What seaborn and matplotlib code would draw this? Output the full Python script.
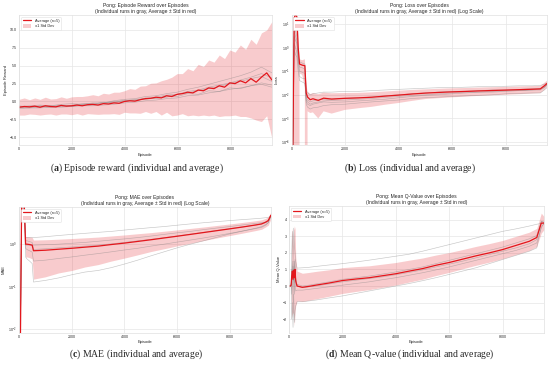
import numpy as np
import pandas as pd
import matplotlib
matplotlib.use("Agg")
import matplotlib.pyplot as plt
from matplotlib.lines import Line2D
from matplotlib.patches import Patch
import seaborn as sns

# ---------------- data ----------------
# (a) episode reward
ep_a = np.linspace(0, 9550, 49)
mean_a = [-0.8, -0.7, -0.75, -0.65, -0.8, -0.6, -0.7, -0.75, -0.55, -0.65, -0.6,
          -0.5, -0.6, -0.45, -0.4, -0.5, -0.3, -0.35, -0.2, -0.25, 0.0,
          0.1, 0.05, 0.25, 0.4, 0.45, 0.6, 0.5, 0.8, 0.7, 1.0,
          1.1, 1.3, 1.2, 1.6, 1.5, 1.9, 1.8, 2.2, 2.0, 2.6,
          2.5, 2.9, 2.6, 3.2, 2.7, 3.4, 4.0, 3.0]
std_a = [1.1, 1.2, 1.0, 1.15, 1.1, 1.2, 1.05, 1.15, 1.2, 1.1, 1.25,
         1.2, 1.3, 1.25, 1.35, 1.3, 1.45, 1.4, 1.5, 1.55, 1.5,
         1.7, 1.65, 1.9, 1.8, 2.1, 2.0, 2.4, 2.3, 2.7, 2.9,
         2.8, 3.3, 3.1, 3.6, 3.4, 3.9, 3.7, 4.3, 4.0, 4.6,
         4.4, 5.0, 4.7, 5.5, 5.3, 6.2, 6.0, 8.2]
ep_a_runs = np.linspace(0, 9550, 25)
runs_a = [
    [-0.9, -0.7, -0.8, -0.6, -0.7, -0.5, -0.4, -0.3, -0.2, 0.0, 0.1, 0.3, 0.4, 0.6, 0.9, 1.0, 1.4, 1.6, 2.0, 2.3, 2.6, 3.0, 3.4, 3.9, 3.3],
    [-0.6, -0.8, -0.6, -0.7, -0.5, -0.6, -0.3, -0.4, -0.1, -0.2, 0.2, 0.1, 0.5, 0.4, 0.8, 0.7, 1.1, 1.0, 1.5, 1.4, 1.9, 1.8, 2.2, 2.4, 2.0],
    [-0.8, -0.9, -0.7, -0.8, -0.6, -0.7, -0.5, -0.5, -0.3, -0.1, 0.0, 0.2, 0.3, 0.5, 0.6, 1.0, 1.2, 1.5, 1.8, 2.1, 2.5, 2.8, 3.2, 3.5, 2.8],
    [-0.7, -0.6, -0.5, -0.6, -0.4, -0.3, -0.4, -0.2, -0.2, 0.1, 0.3, 0.4, 0.7, 0.8, 1.1, 1.3, 1.7, 2.0, 2.4, 2.8, 3.2, 3.6, 4.1, 4.8, 4.0],
    [-1.0, -0.9, -0.9, -0.8, -0.8, -0.7, -0.6, -0.6, -0.5, -0.4, -0.2, -0.1, 0.1, 0.2, 0.4, 0.5, 0.8, 0.9, 1.2, 1.4, 1.7, 1.9, 2.2, 2.6, 2.3],
]

# (b) loss
ep_b = [0, 50, 100, 150, 200, 250, 300, 400, 500, 550, 600, 700, 800, 1000, 1200, 1500,
        2000, 2500, 3000, 3500, 4000, 4500, 5000, 5500, 6000, 6500, 7000, 7500, 8000,
        8500, 9000, 9300, 9450, 9550]
mean_b = [5e-5, 5e-5, 18, 25, 20, 1.0, 0.2, 0.18, 0.17, 0.012, 0.008, 0.0062, 0.0068,
          0.0058, 0.0072, 0.0066, 0.0071, 0.0074, 0.0079, 0.0088, 0.0097, 0.0108, 0.0118,
          0.0126, 0.0133, 0.0139, 0.0146, 0.0152, 0.0158, 0.0165, 0.0172, 0.0178, 0.024, 0.030]
std_b = [1e-5, 1e-5, 30, 35, 28, 3.0, 0.12, 0.11, 0.15, 0.02, 0.006, 0.0045, 0.005,
         0.0048, 0.0052, 0.005, 0.0048, 0.0047, 0.0048, 0.005, 0.0052, 0.0053, 0.0052,
         0.0054, 0.0055, 0.0055, 0.0056, 0.0057, 0.0058, 0.0059, 0.006, 0.006, 0.008, 0.009]
runs_b = [
    [5e-5, 5e-5, 8, 5, 3, 0.5, 0.25, 0.22, 0.2, 0.015, 0.012, 0.010, 0.011, 0.012, 0.013, 0.013, 0.014, 0.014, 0.015, 0.016, 0.017, 0.018, 0.019, 0.020, 0.020, 0.021, 0.022, 0.022, 0.023, 0.024, 0.024, 0.025, 0.028, 0.032],
    [5e-5, 5e-5, 3, 2, 1.5, 0.3, 0.15, 0.14, 0.12, 0.008, 0.006, 0.005, 0.0055, 0.006, 0.0065, 0.0065, 0.007, 0.0075, 0.008, 0.009, 0.010, 0.011, 0.012, 0.013, 0.014, 0.014, 0.015, 0.016, 0.016, 0.017, 0.018, 0.018, 0.022, 0.028],
    [5e-5, 5e-5, 1.5, 1.0, 0.6, 0.2, 0.06, 0.05, 0.05, 0.004, 0.003, 0.0025, 0.0028, 0.003, 0.0035, 0.0038, 0.004, 0.0045, 0.005, 0.0055, 0.006, 0.007, 0.0075, 0.008, 0.0085, 0.009, 0.0095, 0.010, 0.011, 0.0115, 0.012, 0.012, 0.016, 0.020],
    [5e-5, 5e-5, 0.8, 0.5, 0.4, 0.1, 0.04, 0.035, 0.03, 0.005, 0.004, 0.0035, 0.004, 0.0045, 0.005, 0.0048, 0.005, 0.0055, 0.006, 0.0065, 0.0075, 0.0085, 0.0095, 0.010, 0.011, 0.012, 0.013, 0.013, 0.014, 0.015, 0.016, 0.016, 0.020, 0.026],
    [5e-5, 5e-5, 5, 3, 2, 0.4, 0.1, 0.09, 0.08, 0.006, 0.005, 0.004, 0.0045, 0.005, 0.0055, 0.0058, 0.006, 0.0065, 0.007, 0.0078, 0.0085, 0.0095, 0.010, 0.011, 0.012, 0.013, 0.013, 0.014, 0.015, 0.015, 0.016, 0.017, 0.021, 0.027],
]

# (c) MAE
ep_c = [0, 50, 100, 200, 250, 300, 400, 500, 550, 1000, 1500, 2000, 2500, 3000, 3500,
        4000, 4500, 5000, 5500, 6000, 6500, 7000, 7500, 8000, 8500, 9000, 9200, 9350,
        9450, 9550]
mean_c = [0.003, 0.003, 8.5, 8.5, 1.0, 1.0, 0.98, 0.95, 0.70, 0.72, 0.76, 0.80, 0.85,
          0.90, 0.98, 1.06, 1.16, 1.27, 1.40, 1.54, 1.70, 1.88, 2.08, 2.30, 2.55, 2.85,
          3.0, 3.3, 3.6, 4.8]
std_c = [0.001, 0.001, 5, 5, 0.5, 0.5, 0.5, 0.5, 0.55, 0.55, 0.55, 0.56, 0.56, 0.57,
         0.58, 0.59, 0.6, 0.6, 0.62, 0.63, 0.65, 0.66, 0.68, 0.7, 0.72, 0.74, 0.75, 0.75,
         0.8, 0.9]
runs_c = [
    [0.003, 0.003, 6, 6, 1.4, 1.45, 1.45, 1.42, 1.43, 1.5, 1.6, 1.7, 1.8, 1.9, 2.0, 2.15, 2.3, 2.45, 2.6, 2.8, 3.0, 3.2, 3.4, 3.6, 3.8, 4.0, 4.1, 4.2, 4.3, 4.5],
    [0.003, 0.003, 9, 9, 0.95, 0.95, 0.95, 0.93, 0.95, 0.97, 1.0, 1.05, 1.1, 1.17, 1.25, 1.33, 1.43, 1.55, 1.7, 1.85, 2.0, 2.2, 2.4, 2.6, 2.85, 3.1, 3.2, 3.3, 3.5, 4.6],
    [0.003, 0.003, 10, 10, 0.8, 0.75, 0.7, 0.65, 0.4, 0.42, 0.46, 0.5, 0.55, 0.6, 0.66, 0.73, 0.8, 0.9, 1.0, 1.12, 1.25, 1.4, 1.58, 1.8, 2.05, 2.35, 2.5, 2.8, 3.2, 4.6],
    [0.003, 0.003, 7, 7, 0.5, 0.45, 0.4, 0.35, 0.128, 0.14, 0.16, 0.19, 0.22, 0.24, 0.28, 0.34, 0.42, 0.53, 0.66, 0.82, 1.0, 1.2, 1.45, 1.75, 2.05, 2.4, 2.6, 2.9, 3.2, 4.5],
    [0.003, 0.003, 8, 8, 1.2, 1.2, 1.15, 1.1, 0.75, 0.78, 0.82, 0.86, 0.9, 0.95, 1.02, 1.1, 1.2, 1.3, 1.42, 1.56, 1.72, 1.9, 2.1, 2.32, 2.56, 2.85, 3.0, 3.2, 3.4, 4.7],
]

# (d) mean Q-value
ep_d = [0, 50, 80, 100, 125, 150, 175, 200, 225, 250, 300, 500, 750, 1000, 1500, 2000,
        2500, 3000, 3500, 4000, 4500, 5000, 5500, 6000, 6500, 7000, 7500, 8000, 8500,
        9000, 9280, 9450, 9550]
mean_d = [0.0, 0.0, 0.05, 0.6, 0.9, 0.4, 0.95, 0.5, 1.0, 0.3, 0.0, -0.08, -0.02, 0.05,
          0.18, 0.33, 0.42, 0.5, 0.62, 0.74, 0.9, 1.05, 1.25, 1.42, 1.62, 1.82, 2.0, 2.2,
          2.45, 2.7, 2.93, 3.8, 3.8]
std_d = [0.0, 0.0, 0.3, 2.5, 2.6, 2.0, 2.7, 2.9, 2.6, 1.5, 0.9, 0.85, 0.84, 0.83, 0.8,
         0.78, 0.75, 0.72, 0.7, 0.68, 0.66, 0.64, 0.62, 0.6, 0.58, 0.57, 0.56, 0.55, 0.55,
         0.55, 0.55, 0.6, 0.4]
runs_d = [
    [0, 0, 0.2, 2.0, 3.3, 1.5, 3.5, 2.5, 2.0, 1.5, 1.08, 1.1, 1.13, 1.18, 1.27, 1.35, 1.45, 1.56, 1.68, 1.8, 1.92, 2.1, 2.3, 2.5, 2.7, 2.9, 3.1, 3.3, 3.45, 3.62, 3.73, 3.78, 3.8],
    [0, 0, 0.1, -0.5, 1.0, -1.0, 1.5, -0.5, 0.5, -0.3, -0.25, -0.25, -0.2, -0.15, -0.05, 0.05, 0.15, 0.25, 0.38, 0.5, 0.65, 0.8, 0.97, 1.15, 1.35, 1.55, 1.75, 1.95, 2.15, 2.4, 2.6, 3.5, 3.8],
    [0, 0, -0.1, -2.0, -1.0, -2.5, -0.5, -2.2, -1.5, -1.2, -0.95, -0.95, -0.9, -0.85, -0.72, -0.6, -0.45, -0.3, -0.15, 0.0, 0.15, 0.32, 0.5, 0.7, 0.9, 1.1, 1.35, 1.6, 1.85, 2.1, 2.3, 3.6, 3.75],
    [0, 0, 0.05, 1.0, 0.5, 1.2, 0.3, 1.5, 0.8, 0.4, 0.1, 0.0, 0.05, 0.12, 0.25, 0.4, 0.5, 0.6, 0.72, 0.85, 1.0, 1.15, 1.35, 1.55, 1.75, 1.95, 2.15, 2.35, 2.6, 2.85, 3.05, 3.9, 3.85],
    [0, 0, 0.0, 0.5, 1.5, 0.8, 1.0, 0.2, 1.6, 0.5, 0.0, -0.1, -0.05, 0.0, 0.12, 0.25, 0.35, 0.45, 0.55, 0.68, 0.82, 0.97, 1.15, 1.32, 1.5, 1.7, 1.9, 2.1, 2.3, 2.55, 2.8, 3.9, 3.85],
]

sub = "(Individual runs in gray, Average \u00b1 Std in red)"
titles = ["Pong: Episode Reward over Episodes\n" + sub,
          "Pong: Loss over Episodes\n" + sub + " (Log Scale)",
          "Pong: MAE over Episodes\n" + sub + " (Log Scale)",
          "Pong: Mean Q-Value over Episodes\n" + sub]
ylabels = ["Episode Reward", "Loss", "MAE", "Mean Q-Value"]
captions = [("a", "Episode reward (individual and average)"),
            ("b", "Loss (individual and average)"),
            ("c", "MAE (individual and average)"),
            ("d", "Mean Q-value (individual and average)")]

# ---------------- style ----------------
sns.set_theme(style="whitegrid")
plt.rcParams["font.family"] = ["Liberation Sans", "DejaVu Sans"]
plt.rcParams["mathtext.fontset"] = "custom"
plt.rcParams["mathtext.bf"] = "Liberation Serif:bold"
plt.rcParams["mathtext.rm"] = "Liberation Serif"

red = "#e3161c"

fig = plt.figure(figsize=(5.5, 3.74), dpi=100)
positions = [[0.0345, 0.612, 0.460, 0.348],
             [0.530, 0.612, 0.4645, 0.348],
             [0.0345, 0.110, 0.458, 0.337],
             [0.5255, 0.110, 0.4635, 0.340]]

panels = [(ep_a, mean_a, std_a, ep_a_runs, runs_a, False, (-6.1, 12.1)),
          (ep_b, mean_b, std_b, ep_b, runs_b, True, (10 ** -4.13, 10 ** 1.38)),
          (ep_c, mean_c, std_c, ep_c, runs_c, True, (10 ** -2.09, 10 ** 0.88)),
          (ep_d, mean_d, std_d, ep_d, runs_d, False, (-2.83, 4.85))]

for i, (ep, mean, std, ep_r, runs, logy, ylim) in enumerate(panels):
    ax = fig.add_axes(positions[i])
    mean = np.array(mean)
    std = np.array(std)

    df = pd.DataFrame({
        "episode": np.tile(ep_r, len(runs)),
        "value": np.concatenate(runs),
        "run": np.repeat(np.arange(len(runs)), len(ep_r)),
    })
    sns.lineplot(data=df, x="episode", y="value", units="run", estimator=None,
                 color="gray", alpha=0.45, lw=0.45, ax=ax, legend=False)
    ax.fill_between(ep, mean - std, mean + std, color=red, alpha=0.22, lw=0)
    sns.lineplot(x=ep, y=mean, color=red, lw=0.9, ax=ax)

    if logy:
        ax.set_yscale("log")
    ax.set_xlim(0, 9550)
    ax.set_ylim(*ylim)
    ax.set_xticks([0, 2000, 4000, 6000, 8000])
    ax.set_title(titles[i], fontsize=3.6, pad=1.5, linespacing=1.1)
    ax.set_xlabel("Episode", fontsize=3, labelpad=1)
    ax.set_ylabel(ylabels[i], fontsize=3, labelpad=1.5)
    ax.tick_params(labelsize=2.6, pad=1.5, length=0)
    ax.grid(True, color="#e6e6e6", lw=0.5)
    for s in ax.spines.values():
        s.set_color("#e0e0e0")
        s.set_linewidth(0.5)

    handles = [Line2D([], [], color=red, lw=0.9),
               Patch(facecolor=red, alpha=0.22, edgecolor="none")]
    ax.legend(handles, ["Average (n=5)", "\u00b11 Std Dev"], loc="upper left",
              fontsize=2.8, frameon=True, handlelength=2.2, handleheight=0.9,
              borderpad=0.5, labelspacing=0.4, framealpha=1,
              edgecolor="#e0e0e0").get_frame().set_linewidth(0.4)

cap_xy = [(137, 168), (410, 168), (136, 354), (410, 354)]
for (letter, text), (cx, cy) in zip(captions, cap_xy):
    fig.text(cx / 550, 1 - cy / 374, r"($\mathbf{" + letter + r"}$) " + text,
             ha="center", va="center", fontsize=7, family="Liberation Serif")

fig.savefig("out.png", dpi=100)
